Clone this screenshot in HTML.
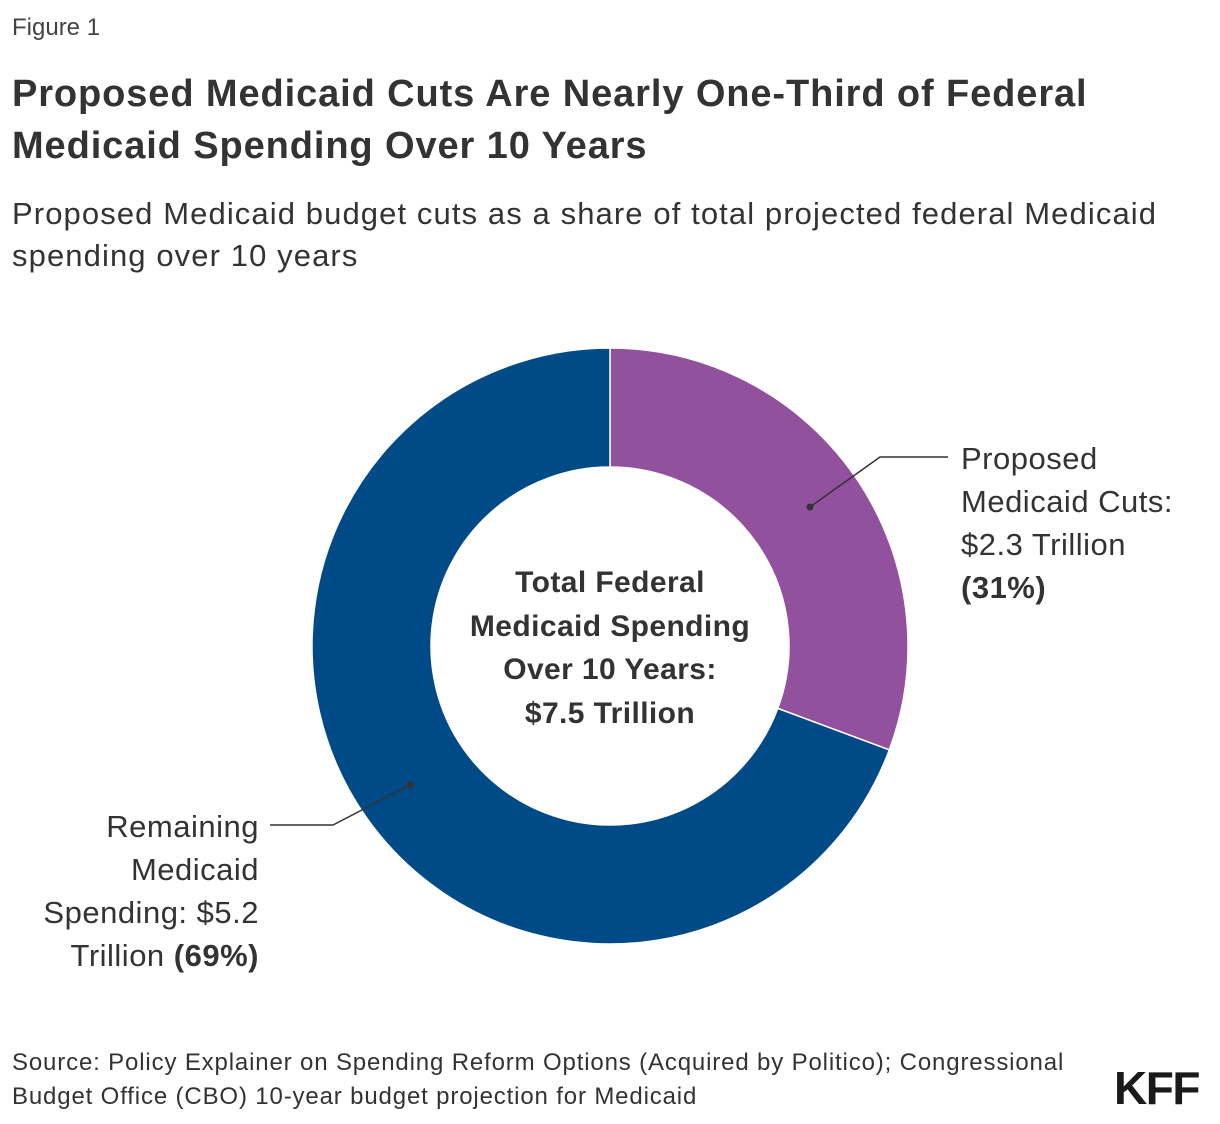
<!DOCTYPE html>
<html><head><meta charset="utf-8"><style>
body{margin:0;width:1220px;height:1124px;background:#fff;font-family:"Liberation Sans",sans-serif;color:#333;position:relative;overflow:hidden}
.t{position:absolute;white-space:nowrap}
</style></head><body>
<div class="t" style="left:12px;top:14px;font-size:24px;color:#444">Figure 1</div>
<div class="t" style="left:12px;top:68px;font-size:38px;font-weight:bold;line-height:52px;letter-spacing:0.9px">Proposed Medicaid Cuts Are Nearly One-Third of Federal<br>Medicaid Spending Over 10 Years</div>
<div class="t" style="left:12px;top:193px;font-size:31px;line-height:42px;letter-spacing:1.1px">Proposed Medicaid budget cuts as a share of total projected federal Medicaid<br>spending over 10 years</div>
<svg id="chart" width="1220" height="1124" style="position:absolute;left:0;top:0"></svg>
<div class="t" style="left:410px;top:561px;width:400px;text-align:center;font-size:30px;font-weight:bold;line-height:43.5px;letter-spacing:0.4px">Total Federal<br>Medicaid Spending<br>Over 10 Years:<br>$7.5 Trillion</div>
<div class="t" style="left:961px;top:437px;font-size:31px;line-height:43px;letter-spacing:0.5px">Proposed<br>Medicaid Cuts:<br>$2.3 Trillion<br><b>(31%)</b></div>
<div class="t" style="right:961px;top:805px;text-align:right;font-size:31px;line-height:43px;letter-spacing:0.5px">Remaining<br>Medicaid<br>Spending: $5.2<br>Trillion <b>(69%)</b></div>
<div class="t" style="left:12px;top:1046px;font-size:24px;line-height:34px;letter-spacing:0.85px">Source: Policy Explainer on Spending Reform Options (Acquired by Politico); Congressional<br>Budget Office (CBO) 10-year budget projection for Medicaid</div>
<div class="t" style="left:1114px;top:1061px;font-size:46px;font-weight:bold;color:#1a1a1a;letter-spacing:-1.5px">KFF</div>
<script>
const categories=["Proposed Medicaid Cuts","Remaining Medicaid Spending"];
const values=[2.3,5.2];
const colors=["#91519d","#004a87"];
const svg=document.getElementById('chart');
const NS='http://www.w3.org/2000/svg';
const cx=610,cy=646,R=298,r=179;
const total=values.reduce((a,b)=>a+b,0);
function pt(a,rad){return [cx+rad*Math.sin(a),cy-rad*Math.cos(a)];}
let a0=0;
const mids=[];
values.forEach((v,i)=>{
  const a1=a0+v/total*2*Math.PI;
  const large=(a1-a0)>Math.PI?1:0;
  const [x0,y0]=pt(a0,R),[x1,y1]=pt(a1,R),[x2,y2]=pt(a1,r),[x3,y3]=pt(a0,r);
  const p=document.createElementNS(NS,'path');
  p.setAttribute('d',`M${x0},${y0}A${R},${R} 0 ${large} 1 ${x1},${y1}L${x2},${y2}A${r},${r} 0 ${large} 0 ${x3},${y3}Z`);
  p.setAttribute('fill',colors[i]);p.setAttribute('stroke','#fff');p.setAttribute('stroke-width','1.5');
  
  
  svg.appendChild(p);
  mids.push((a0+a1)/2);
  a0=a1;
});
const leaders=[[880,457,948,457],[333,825,270,825]];
mids.forEach((m,i)=>{
  const [dx,dy]=pt(m,(R+r)/2+5);
  const [ex,ey,fx,fy]=leaders[i];
  const l=document.createElementNS(NS,'polyline');
  l.setAttribute('points',`${dx},${dy} ${ex},${ey} ${fx},${fy}`);
  l.setAttribute('fill','none');l.setAttribute('stroke','#333');l.setAttribute('stroke-width','1.5');
  
  
  svg.appendChild(l);
  const c=document.createElementNS(NS,'circle');
  c.setAttribute('cx',dx);c.setAttribute('cy',dy);c.setAttribute('r',3.5);c.setAttribute('fill','#333');
  
  
  svg.appendChild(c);
});
</script>
</body></html>
